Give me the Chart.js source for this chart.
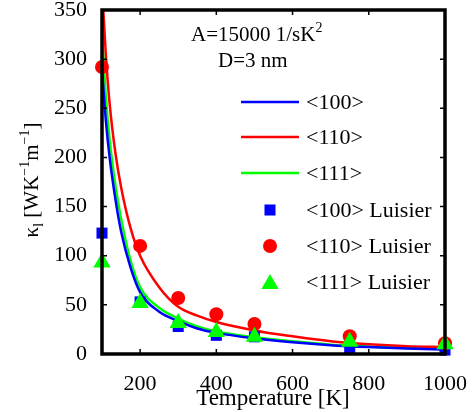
<!DOCTYPE html>
<html>
<head>
<meta charset="utf-8">
<script src="https://cdn.jsdelivr.net/npm/chart.js@4"></script>
<style>
  body { margin: 0; background: #fff; }
  canvas { display: block; }
</style>
</head>
<body>
<canvas id="myChart" width="474" height="412"></canvas>
<script>
// Model curves
const curveT = [100, 110, 120, 135, 150, 175, 200, 250, 300, 350, 400, 500, 600, 700, 800, 900, 1000];
const curve100 = [290, 238, 200, 158, 125, 88, 63, 43, 33.5, 26, 21.5, 16, 12, 9, 7, 5.5, 4.5];
const curve110 = [374, 305, 255, 205, 170, 128, 100, 68, 48, 39, 32.5, 24, 18, 13, 10, 8, 7];
const curve111 = [330, 262, 218, 172, 138, 95, 68, 47, 36, 28, 23, 17, 13, 9.5, 7.5, 6, 5];

// Luisier data points
const luisierT = [100, 200, 300, 400, 500, 750, 1000];
const luisier100 = [123, 53, 28, 19, 17.5, 6, 4];
const luisier110 = [292, 110, 57, 40.5, 30.5, 18, 11];
const luisier111 = [93, 52, 31.5, 22.5, 17.5, 12.5, 10];

// Axes
const xTicks = [200, 400, 600, 800, 1000];
const yTicks = [0, 50, 100, 150, 200, 250, 300, 350];

const serif = "'Liberation Serif', 'DejaVu Serif', serif";
const blue = '#0000ff', red = '#ff0000', green = '#00ff00';

function pts(xs, ys) {
    return xs.map((x, i) => ({ x: x, y: ys[i] }));
}

// Draws text with sub/superscript pieces, starting at (x, y) baseline
function drawRich(ctx, parts, x, y, size) {
    let cx = x;
    parts.forEach(p => {
        const s = p.sup || p.sub ? Math.round(size * 0.65) : size;
        ctx.font = s + 'px ' + serif;
        let dy = 0;
        if (p.sup) dy = -size * 0.42;
        if (p.sub) dy = size * 0.25;
        ctx.fillText(p.t, cx, y + dy);
        cx += ctx.measureText(p.t).width;
    });
    return cx - x;
}

function richWidth(ctx, parts, size) {
    let w = 0;
    parts.forEach(p => {
        const s = p.sup || p.sub ? Math.round(size * 0.65) : size;
        ctx.font = s + 'px ' + serif;
        w += ctx.measureText(p.t).width;
    });
    return w;
}

const decorations = {
    id: 'decorations',
    afterDatasetsDraw(chart) {
        const ctx = chart.ctx;
        const a = chart.chartArea;
        const xs = chart.scales.x, ys = chart.scales.y;
        ctx.save();

        // box
        ctx.strokeStyle = '#000';
        ctx.lineWidth = 3.5;
        ctx.strokeRect(a.left, a.top, a.right - a.left, a.bottom - a.top);

        // inner ticks
        ctx.lineWidth = 1.5;
        ctx.beginPath();
        yTicks.forEach(v => {
            const y = ys.getPixelForValue(v);
            ctx.moveTo(a.left, y); ctx.lineTo(a.left + 5, y);
            ctx.moveTo(a.right, y); ctx.lineTo(a.right - 5, y);
        });
        xTicks.forEach(v => {
            const x = xs.getPixelForValue(v);
            ctx.moveTo(x, a.bottom); ctx.lineTo(x, a.bottom - 5);
            ctx.moveTo(x, a.top); ctx.lineTo(x, a.top + 5);
        });
        ctx.stroke();

        ctx.fillStyle = '#000';
        ctx.textBaseline = 'alphabetic';
        ctx.textAlign = 'left';

        // x title
        ctx.font = '23px ' + serif;
        ctx.textAlign = 'center';
        ctx.fillText('Temperature [K]', 273, 405);
        ctx.textAlign = 'left';

        // y title (rotated)
        const yParts = [
            { t: 'κ' }, { t: 'l', sub: true }, { t: ' [WK' }, { t: '−1', sup: true },
            { t: 'm' }, { t: '−1', sup: true }, { t: ']' }
        ];
        const yw = richWidth(ctx, yParts, 21);
        ctx.save();
        ctx.translate(38, 180);
        ctx.rotate(-Math.PI / 2);
        drawRich(ctx, yParts, -yw / 2, 0, 21);
        ctx.restore();

        // annotation
        drawRich(ctx, [{ t: 'A=15000 1/sK' }, { t: '2', sup: true }], 191, 41, 21);
        drawRich(ctx, [{ t: 'D=3 nm' }], 218, 67, 21);

        // legend
        const legend = [
            { label: '<100>', color: blue, type: 'line' },
            { label: '<110>', color: red, type: 'line' },
            { label: '<111>', color: green, type: 'line' },
            { label: '<100> Luisier', color: blue, type: 'rect' },
            { label: '<110> Luisier', color: red, type: 'circle' },
            { label: '<111> Luisier', color: green, type: 'triangle' }
        ];
        const rowY = [102, 137, 173, 210, 246, 282];
        ctx.textBaseline = 'middle';
        legend.forEach((item, i) => {
            const y = rowY[i];
            if (item.type === 'line') {
                ctx.strokeStyle = item.color;
                ctx.lineWidth = 2.5;
                ctx.beginPath();
                ctx.moveTo(241, y); ctx.lineTo(299, y);
                ctx.stroke();
            } else {
                const r = item.type === 'rect' ? 7.8 : (item.type === 'circle' ? 7 : 10);
                const cy = item.type === 'triangle' ? y + 2 : y;
                ctx.fillStyle = item.color;
                ctx.beginPath();
                if (item.type === 'rect') {
                    ctx.rect(270 - r * Math.SQRT1_2, cy - r * Math.SQRT1_2, 2 * r * Math.SQRT1_2, 2 * r * Math.SQRT1_2);
                } else if (item.type === 'circle') {
                    ctx.arc(270, cy, r, 0, Math.PI * 2);
                } else {
                    ctx.moveTo(270, cy - r);
                    ctx.lineTo(270 + r * 0.866, cy + r * 0.5);
                    ctx.lineTo(270 - r * 0.866, cy + r * 0.5);
                    ctx.closePath();
                }
                ctx.fill();
            }
            ctx.fillStyle = '#000';
            ctx.font = '22px ' + serif;
            ctx.fillText(item.label, 306, y + 1);
        });

        ctx.restore();
    }
};

const lineStyle = (color) => ({
    borderColor: color,
    backgroundColor: color,
    borderWidth: 2.5,
    pointRadius: 0,
    fill: false,
    cubicInterpolationMode: 'monotone',
    order: 10
});

const markerStyle = (color, style, radius, order) => ({
    showLine: false,
    borderColor: color,
    backgroundColor: color,
    pointStyle: style,
    pointRadius: radius,
    pointBorderWidth: 0,
    clip: false,
    order: order
});

new Chart(document.getElementById('myChart').getContext('2d'), {
    type: 'line',
    data: {
        datasets: [
            Object.assign({ label: '<100>', data: pts(curveT, curve100) }, lineStyle(blue)),
            Object.assign({ label: '<110>', data: pts(curveT, curve110) }, lineStyle(red)),
            Object.assign({ label: '<111>', data: pts(curveT, curve111) }, lineStyle(green)),
            Object.assign({ label: '<100> Luisier', data: pts(luisierT, luisier100) }, markerStyle(blue, 'rect', 7.8, 3)),
            Object.assign({ label: '<110> Luisier', data: pts(luisierT, luisier110) }, markerStyle(red, 'circle', 7, 2)),
            Object.assign({ label: '<111> Luisier', data: pts(luisierT, luisier111) }, markerStyle(green, 'triangle', 10, 1))
        ]
    },
    options: {
        responsive: false,
        animation: false,
        devicePixelRatio: 1,
        layout: { padding: { top: 10, right: 29, left: 0, bottom: 0 } },
        plugins: {
            legend: { display: false },
            tooltip: { enabled: false }
        },
        scales: {
            x: {
                type: 'linear',
                min: 100,
                max: 1000,
                grid: { display: false },
                border: { display: false },
                afterBuildTicks: (scale) => { scale.ticks = xTicks.map(v => ({ value: v })); },
                afterFit: (scale) => {
                    scale.height = 58;
                    scale.paddingLeft = 0;
                    scale.paddingRight = 0;
                },
                ticks: {
                    color: '#000',
                    font: { family: serif, size: 22 },
                    padding: 9,
                    maxRotation: 0,
                    callback: (v) => String(v)
                }
            },
            y: {
                type: 'linear',
                min: 0,
                max: 350,
                grid: { display: false },
                border: { display: false },
                afterBuildTicks: (scale) => { scale.ticks = yTicks.map(v => ({ value: v })); },
                afterFit: (scale) => {
                    scale.width = 102;
                    scale.paddingTop = 0;
                    scale.paddingBottom = 0;
                },
                ticks: {
                    color: '#000',
                    font: { family: serif, size: 22 },
                    padding: 7,
                    callback: (v) => String(v)
                }
            }
        }
    },
    plugins: [decorations]
});
</script>
</body>
</html>
